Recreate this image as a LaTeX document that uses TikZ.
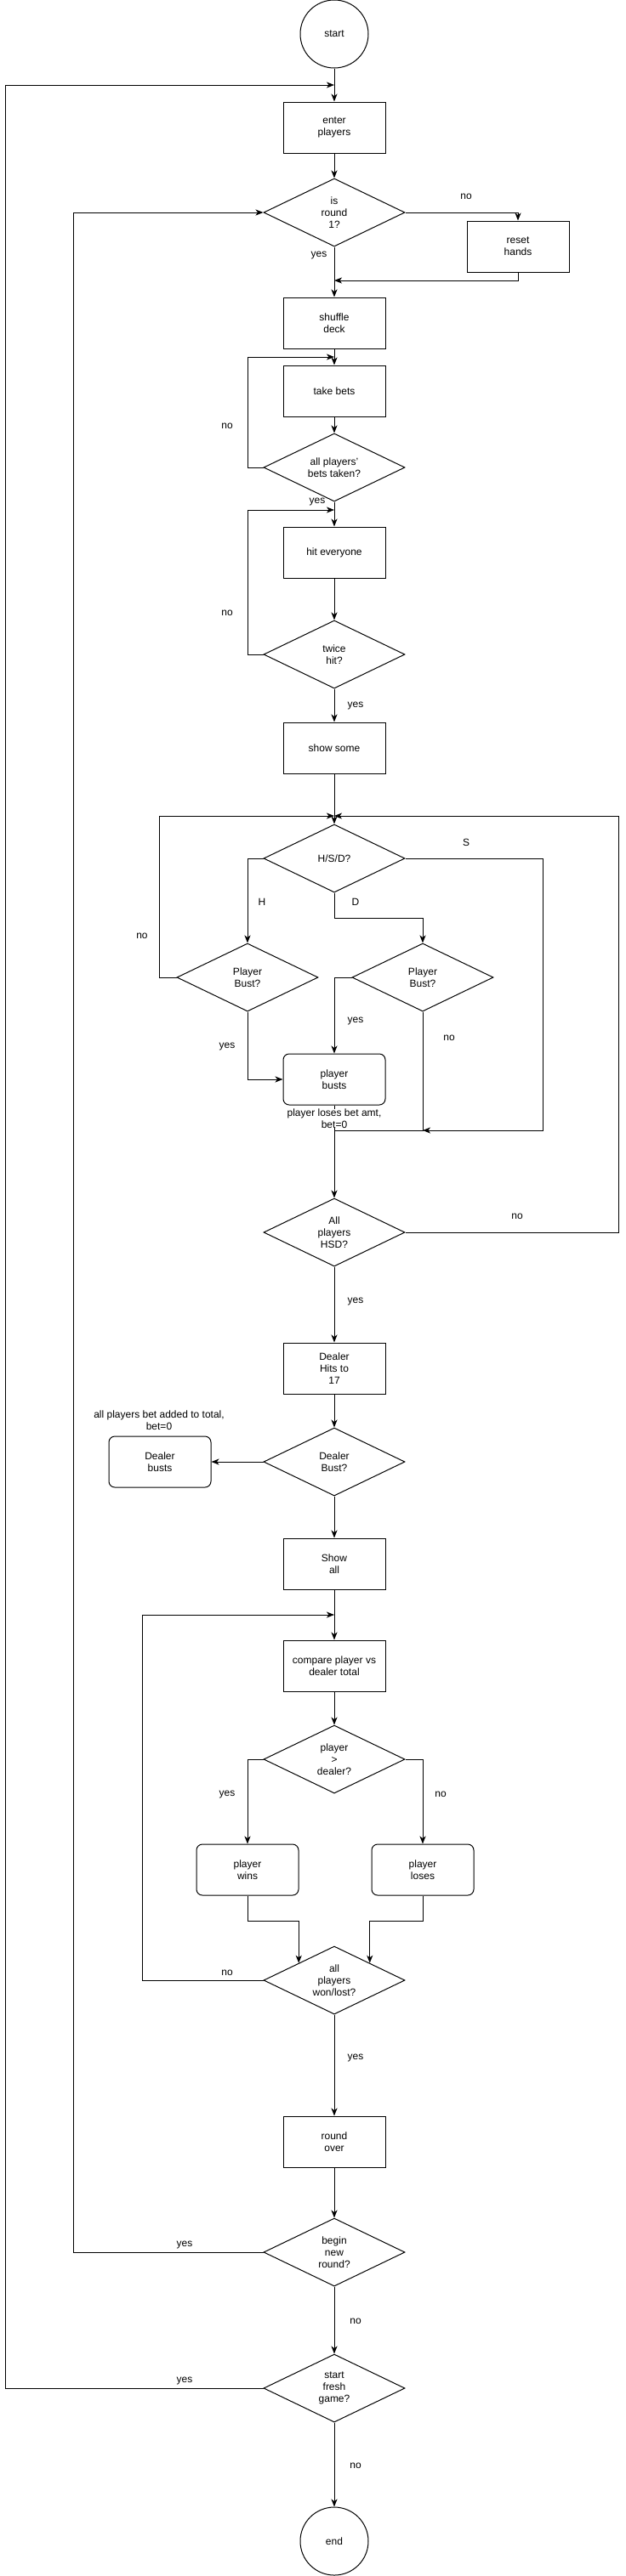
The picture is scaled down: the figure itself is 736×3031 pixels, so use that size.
\documentclass[tikz,border=0pt]{standalone}
\usepackage{fontspec}
\setmainfont{Liberation Sans}
\usetikzlibrary{shapes.geometric,arrows.meta}
\begin{document}
\begin{tikzpicture}[x=1pt,y=-1pt,
  every node/.style={font=\fontsize{12}{14}\selectfont, align=center, inner sep=0pt},
  box/.style={draw, line width=1pt, minimum width=120pt, minimum height=60pt},
  rbox/.style={box, rounded corners=7pt},
  dec/.style={draw, line width=1pt, diamond, aspect=2.075, minimum width=166pt, minimum height=80pt},
  term/.style={draw, line width=1pt, circle, minimum size=80pt},
  arr/.style={draw, line width=1pt, -{Stealth[length=9pt,width=7pt,inset=2.5pt]}},
  ln/.style={draw, line width=1pt},
]
\useasboundingbox (0,0) rectangle (736,3031);
% nodes
\node[term] (start) at (393,40) {start};
\node[box] (enter) at (393,150) {enter\\players};
\node[dec] (r1) at (393,250) {is\\round\\1?};
\node[box] (reset) at (609,290) {reset\\hands};
\node[box] (shuffle) at (393,380) {shuffle\\deck};
\node[box] (bets) at (393,460) {take bets};
\node[dec] (allbets) at (393,550) {all players'\\bets taken?};
\node[box] (hit) at (393,650) {hit everyone};
\node[dec] (twice) at (393,770) {twice\\hit?};
\node[box] (show) at (393,880) {show some};
\node[dec] (hsd) at (393,1010) {H/S/D?};
\node[dec] (pbl) at (291,1150) {Player\\Bust?};
\node[dec] (pbr) at (497,1150) {Player\\Bust?};
\node[rbox] (pbust) at (393,1270) {player\\busts};
\node[dec] (allhsd) at (393,1450) {All\\players\\HSD?};
\node[box] (dhit) at (393,1610) {Dealer\\Hits to\\17};
\node[dec] (dbust) at (393,1720) {Dealer\\Bust?};
\node[rbox] (dbusts) at (188,1720) {Dealer\\busts};
\node[box] (showall) at (393,1840) {Show\\all};
\node[box] (cmp) at (393,1960) {compare player vs\\dealer total};
\node[dec] (pgd) at (393,2070) {player\\>\\dealer?};
\node[rbox] (wins) at (291,2200) {player\\wins};
\node[rbox] (loses) at (497,2200) {player\\loses};
\node[dec] (wl) at (393,2330) {all\\players\\won/lost?};
\node[box] (over) at (393,2520) {round\\over};
\node[dec] (newr) at (393,2650) {begin\\new\\round?};
\node[dec] (fresh) at (393,2810) {start\\fresh\\game?};
\node[term] (end) at (393,2990) {end};
% merge points
\coordinate (m1) at (393,100);
\coordinate (m2) at (393,330);
\coordinate (m3) at (393,420);
\coordinate (m4) at (393,600);
\coordinate (m5) at (393,960);
\coordinate (m6) at (497,1330);
\coordinate (m6b) at (393,1330);
\coordinate (m7) at (393,1900);
% edges
\draw[arr] (start) -- (enter);
\draw[arr] (enter) -- (r1);
\draw[arr] (r1.east) -| (reset.north);
\draw[arr] (reset.south) |- (m2);
\draw[arr] (r1.south) -- (shuffle.north);
\draw[arr] (shuffle) -- (bets);
\draw[arr] (bets) -- (allbets);
\draw[arr] (allbets.west) -- ++(-18,0) |- (m3);
\draw[arr] (allbets) -- (hit);
\draw[arr] (hit) -- (twice);
\draw[arr] (twice.west) -- ++(-18,0) |- (m4);
\draw[arr] (twice) -- (show);
\draw[arr] (show) -- (hsd);
\draw[arr] (hsd.west) -| (pbl.north);
\draw[arr] (hsd.south) -- ++(0,30) -| (pbr.north);
\draw[arr] (hsd.east) -- ++(162,0) |- (m6);
\draw[arr] (pbl.west) -- ++(-20,0) |- (m5);
\draw[arr] (allhsd.east) -- ++(251,0) |- (m5);
\draw[arr] (pbl.south) |- (pbust.west);
\draw[arr] (pbr.west) -| (pbust.north);
\draw[ln] (pbr.south) |- (m6b);
\draw[arr] (pbust) -- (allhsd);
\node[fill=white] (loselbl) at (393,1316) {player loses bet amt,\\bet=0};
\draw[arr] (allhsd) -- (dhit);
\draw[arr] (dhit) -- (dbust);
\draw[arr] (dbust) -- (dbusts);
\draw[arr] (dbust) -- (showall);
\draw[arr] (showall) -- (cmp);
\draw[arr] (cmp) -- (pgd);
\draw[arr] (pgd.west) -| (wins.north);
\draw[arr] (pgd.east) -| (loses.north);
\draw[arr] (wins.south) -- ++(0,30) -| (wl.north west);
\draw[arr] (loses.south) -- ++(0,30) -| (wl.north east);
\draw[arr] (wl.west) -- ++(-142,0) |- (m7);
\draw[arr] (wl) -- (over);
\draw[arr] (over) -- (newr);
\draw[arr] (newr.west) -- ++(-223,0) |- (r1.west);
\draw[arr] (newr) -- (fresh);
\draw[arr] (fresh.west) -- ++(-303,0) |- (m1);
\draw[arr] (fresh) -- (end);
% labels
\node (l1) at (548,231) {no};
\node (l2) at (375,301) {yes};
\node (l3) at (267,501) {no};
\node (l4) at (373,591) {yes};
\node (l5) at (267,721) {no};
\node (l6) at (418,831) {yes};
\node (l7) at (548,991) {S};
\node (l8) at (308,1061) {H};
\node (l9) at (418,1061) {D};
\node (l10) at (167,1101) {no};
\node (l11) at (418,1201) {yes};
\node (l12) at (528,1221) {no};
\node (l13) at (267,1231) {yes};
\node (l14) at (608,1431) {no};
\node (l15) at (418,1531) {yes};
\node (l16) at (187,1671) {all players bet added to total,\\bet=0};
\node (l17) at (267,2111) {yes};
\node (l18) at (518,2111) {no};
\node (l19) at (267,2321) {no};
\node (l20) at (418,2421) {yes};
\node (l21) at (217,2641) {yes};
\node (l22) at (418,2731) {no};
\node (l23) at (217,2801) {yes};
\node (l24) at (418,2901) {no};
\end{tikzpicture}
\end{document}
